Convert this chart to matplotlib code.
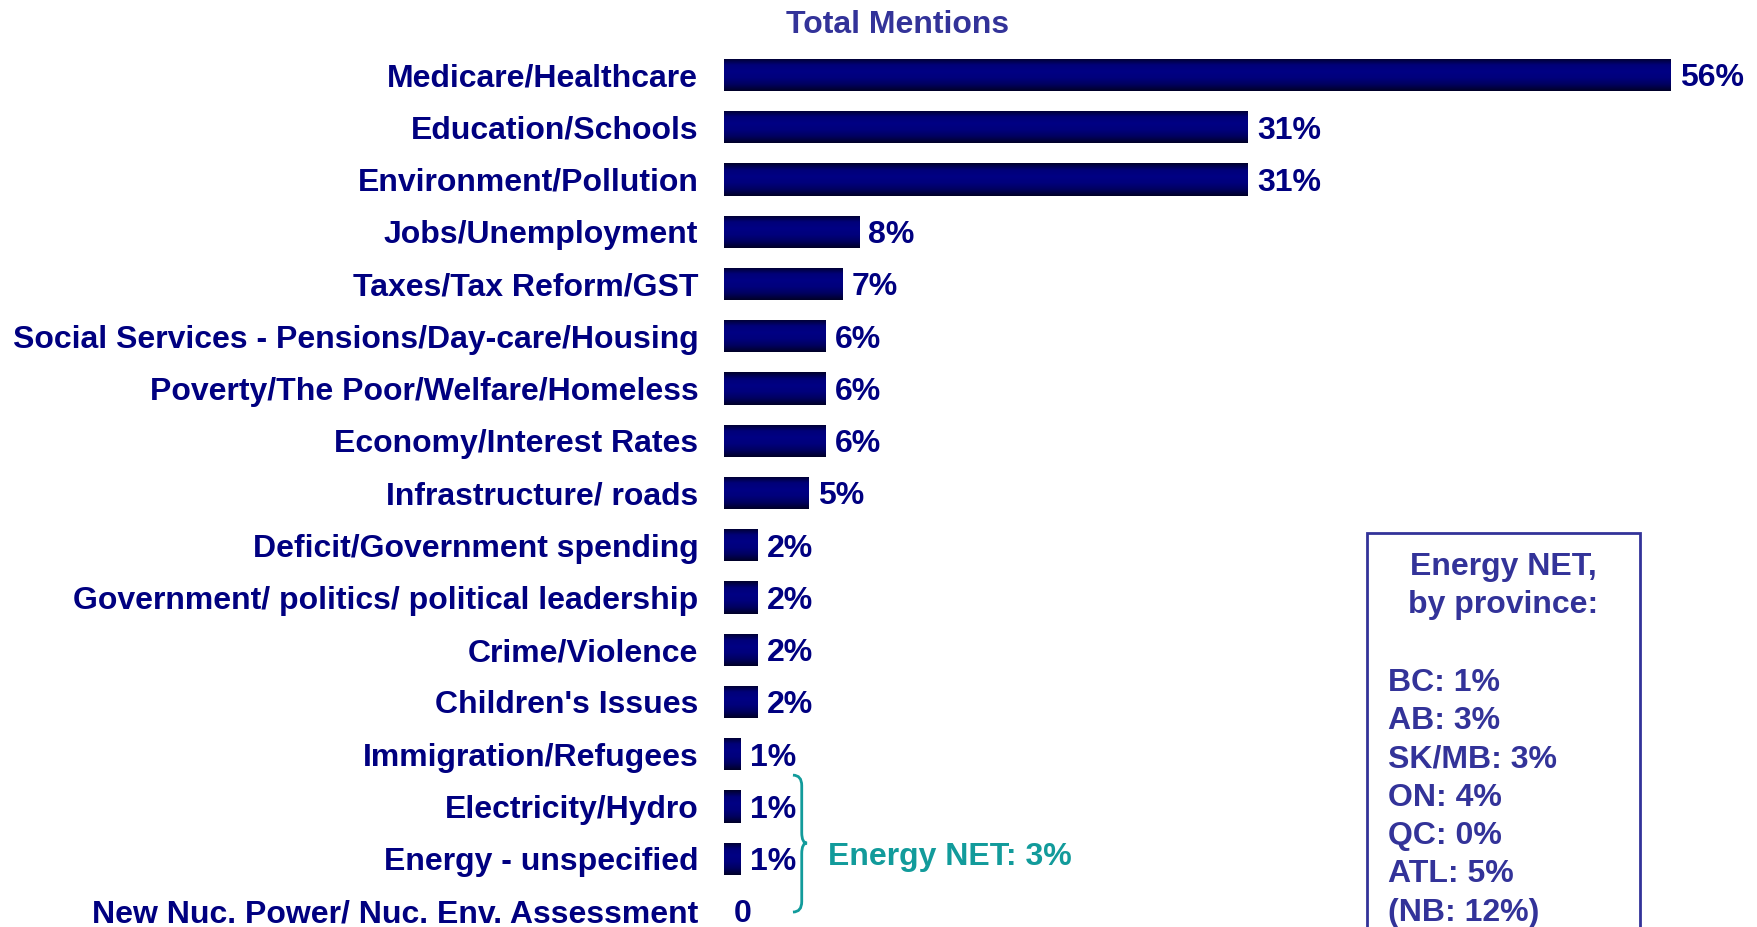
import matplotlib
matplotlib.use("Agg")
import matplotlib.pyplot as plt
import numpy as np
from matplotlib.colors import LinearSegmentedColormap
from matplotlib.path import Path
from matplotlib.patches import PathPatch, Rectangle

plt.rcParams['font.family'] = ['Liberation Sans', 'DejaVu Sans']

categories = ["Medicare/Healthcare", "Education/Schools", "Environment/Pollution",
              "Jobs/Unemployment", "Taxes/Tax Reform/GST",
              "Social Services - Pensions/Day-care/Housing",
              "Poverty/The Poor/Welfare/Homeless", "Economy/Interest Rates",
              "Infrastructure/ roads", "Deficit/Government spending",
              "Government/ politics/ political leadership", "Crime/Violence",
              "Children's Issues", "Immigration/Refugees", "Electricity/Hydro",
              "Energy - unspecified", "New Nuc. Power/ Nuc. Env. Assessment"]
values = [56, 31, 31, 8, 7, 6, 6, 6, 5, 2, 2, 2, 2, 1, 1, 1, 0]
value_labels = ["56%", "31%", "31%", "8%", "7%", "6%", "6%", "6%", "5%", "2%",
                "2%", "2%", "2%", "1%", "1%", "1%", "0"]

energy_net = "Energy NET: 3%"
provinces = ["BC", "AB", "SK/MB", "ON", "QC", "ATL", "(NB"]
province_values = ["1%", "3%", "3%", "4%", "0%", "5%", "12%)"]

NAVY = '#000080'
BOXBLUE = '#333399'
TEAL = '#129b9b'
FS = 23

W, H = 1758, 927
fig = plt.figure(figsize=(W / 100, H / 100), dpi=100)

# axes: x=0 at px 724, 16.9 px per percent; rows 52.25 px apart, first at y=75
x0_px, ppp = 724, 16.9
xmax = (W - x0_px) / ppp
row_px, y0_px = 52.25, 75
ax = fig.add_axes([x0_px / W, 0, 1 - x0_px / W, 1])
ytop = -y0_px / row_px
ybot = (H - y0_px) / row_px

pos = np.arange(len(categories))
h = 0.62
bars = ax.barh(pos, values, height=h, color=NAVY)

grad_cmap = LinearSegmentedColormap.from_list(
    'bar', ['#00002c', '#000078', '#000084', '#00007c', '#000060', '#000028'])
grad = np.linspace(0, 1, 64).reshape(-1, 1)
for b, v in zip(bars, values):
    if v == 0:
        continue
    im = ax.imshow(grad, extent=[0, v, b.get_y() + h, b.get_y()],
                   aspect='auto', cmap=grad_cmap, interpolation='bilinear',
                   origin='upper', zorder=3)
    im.set_clip_path(b)

for p, v, lab in zip(pos, values, value_labels):
    ax.text(v + 0.55, p, lab, va='center_baseline', ha='left', fontsize=FS,
            fontweight='bold', color=NAVY)

ax.set_xlim(0, xmax)
ax.set_ylim(ybot, ytop)
ax.set_yticks(pos)
ax.set_yticklabels(categories, fontsize=FS, fontweight='bold', color=NAVY)
ax.tick_params(axis='y', length=0, pad=18.5)
ax.set_xticks([])
for s in ax.spines.values():
    s.set_visible(False)

# brace grouping the energy rows
bx_l, bx_m, bx_t = 4.08, 4.6, 4.91
by_t, by_m, by_b = 13.4, 14.7, 16.02
verts = [(bx_l, by_t), (bx_m, by_t), (bx_m, by_t + 0.2),
         (bx_m, by_m - 0.2),
         (bx_m, by_m), (bx_t, by_m),
         (bx_m, by_m), (bx_m, by_m + 0.2),
         (bx_m, by_b - 0.2),
         (bx_m, by_b), (bx_l, by_b)]
codes = [Path.MOVETO, Path.CURVE3, Path.CURVE3, Path.LINETO,
         Path.CURVE3, Path.CURVE3, Path.CURVE3, Path.CURVE3,
         Path.LINETO, Path.CURVE3, Path.CURVE3]
ax.add_patch(PathPatch(Path(verts, codes), fill=False, edgecolor=TEAL,
                       lw=2, clip_on=False))
ax.text(6.15, 14.9, energy_net, va='center_baseline', ha='left', fontsize=FS,
        fontweight='bold', color=TEAL)

fig.text(898 / W, 1 - 25 / H, "Total Mentions", ha='center', va='center',
         fontsize=FS, fontweight='bold', color=BOXBLUE)

# province box
fig.patches.append(Rectangle((1367 / W, -0.02), (1640 - 1367) / W,
                             1.02 - 533 / H, transform=fig.transFigure,
                             fill=False, edgecolor=BOXBLUE, lw=2))
fig.text(1503 / W, 1 - 575 / H, "Energy NET,", ha='center', va='baseline',
         fontsize=FS, fontweight='bold', color=BOXBLUE)
fig.text(1503 / W, 1 - 613 / H, "by province:", ha='center', va='baseline',
         fontsize=FS, fontweight='bold', color=BOXBLUE)
for k, (pr, pv) in enumerate(zip(provinces, province_values)):
    fig.text(1388 / W, 1 - (691 + 38.3 * k) / H, f"{pr}: {pv}", ha='left',
             va='baseline', fontsize=FS, fontweight='bold', color=BOXBLUE)

fig.savefig('out.png', dpi=100)
